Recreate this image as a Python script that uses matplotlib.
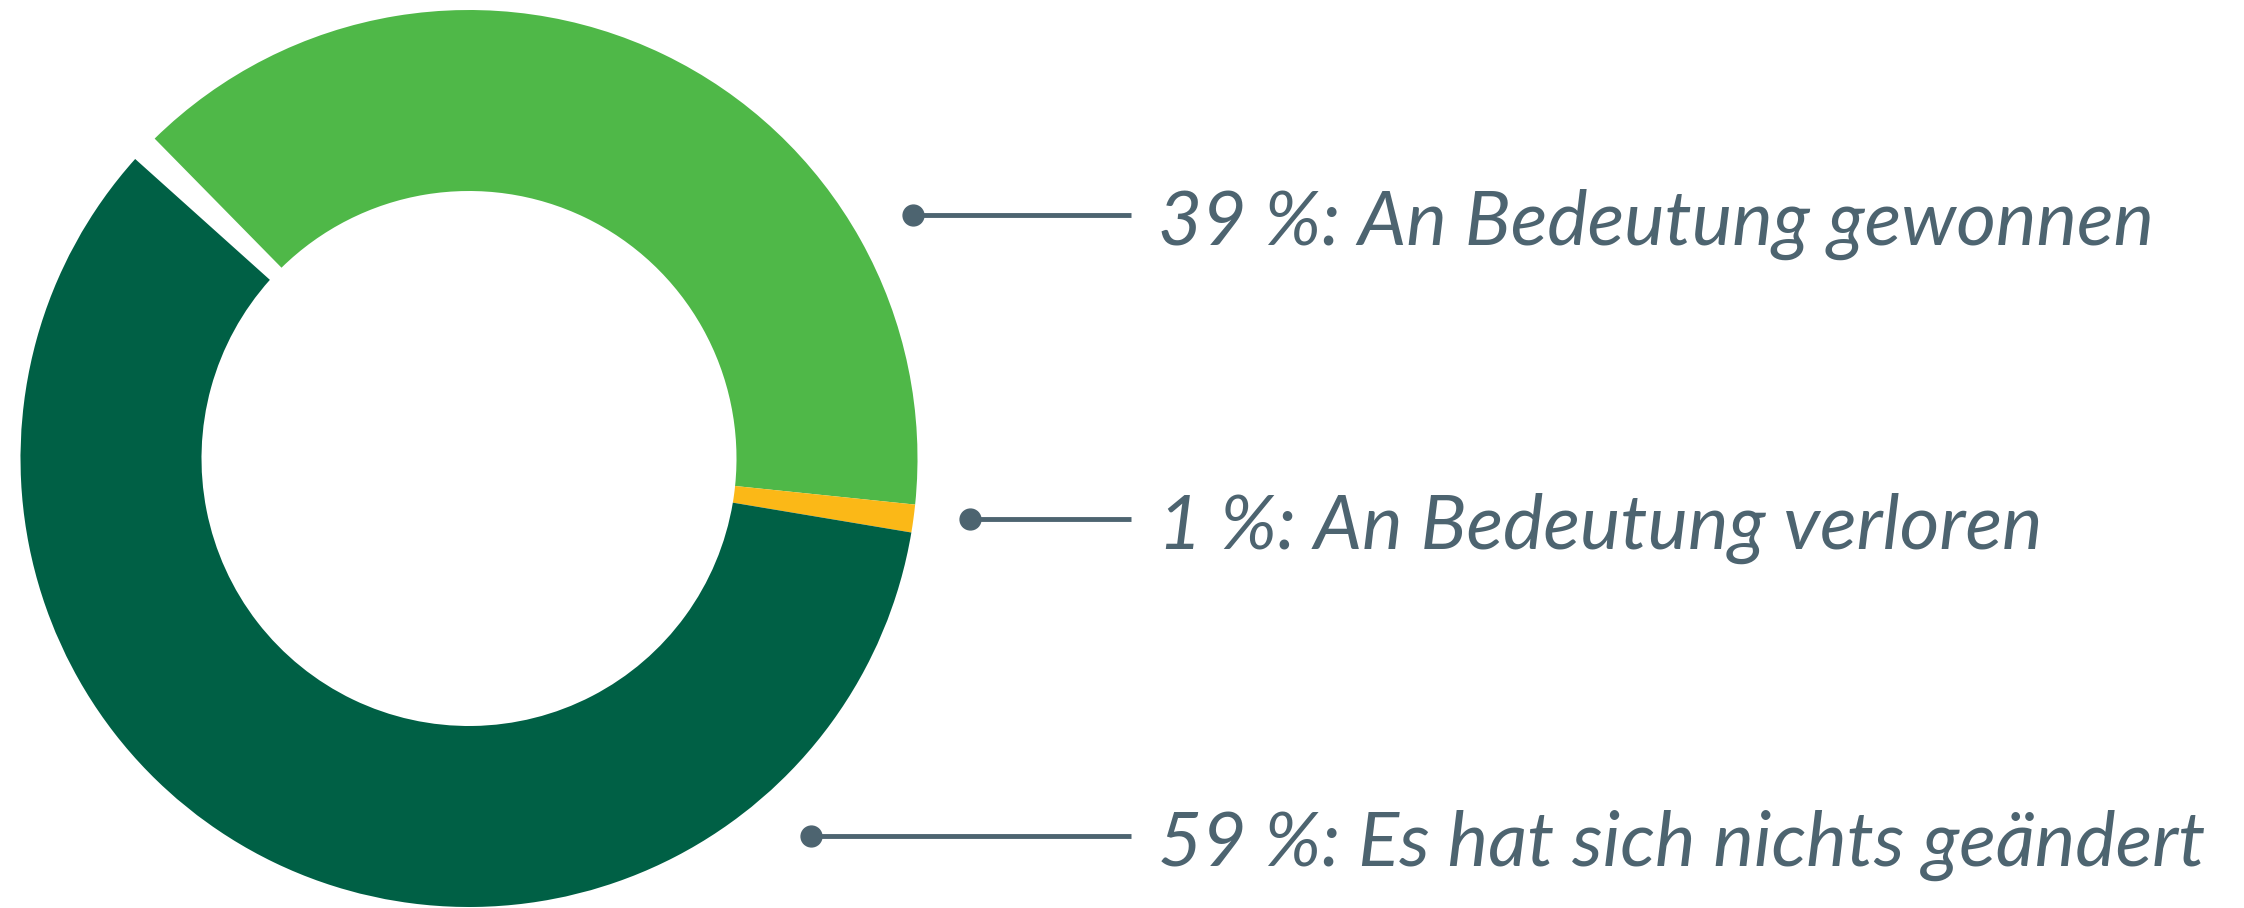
import matplotlib
matplotlib.use("Agg")
import matplotlib.pyplot as plt

# Anteile in Prozent (Summe 99, der Rest bleibt als Lücke frei)
labels = ["An Bedeutung gewonnen", "An Bedeutung verloren", "Es hat sich nichts geändert"]
values = [39, 1, 59]
colors = ["#4fb848", "#fbb817", "#006045"]

text_color = "#4d6470"

fig = plt.figure(figsize=(22.44, 9.08), dpi=100)
ax = fig.add_axes([0, 0, 1, 1])

fractions = [v / 100 for v in values]
ax.pie(fractions, colors=colors, normalize=False, startangle=134.5,
       counterclock=False, center=(469, 449.5), radius=448.5,
       wedgeprops=dict(width=181, linewidth=0))

# Beschriftungen mit Verbindungslinie und Punkt
dot_x = [913, 970, 811]
dot_y = [693, 389, 72]
line_end = 1131
text_x = 1158
for lab, val, dx, dy in zip(labels, values, dot_x, dot_y):
    ax.plot([dx, line_end], [dy, dy], color=text_color, lw=3.5,
            solid_capstyle="butt")
    ax.plot(dx, dy, "o", color=text_color, markersize=15)
    ax.text(text_x, dy - 30, f"{val} %: {lab}", color=text_color,
            fontsize=55, fontstyle="italic", family="Lato",
            ha="left", va="baseline")

ax.set_xlim(0, 2244)
ax.set_ylim(0, 908)
ax.set_aspect("equal")
ax.axis("off")

fig.savefig("out.png", dpi=100, facecolor="white")
